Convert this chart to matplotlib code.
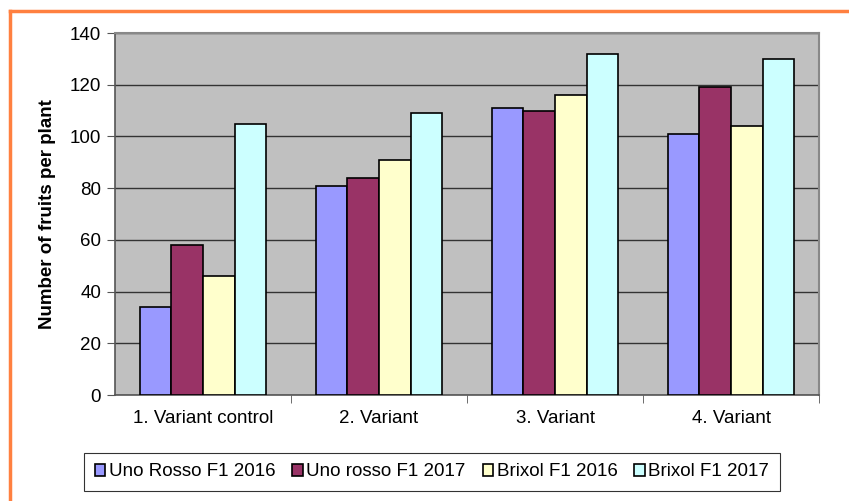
import numpy as np
import matplotlib.pyplot as plt
from matplotlib.lines import Line2D

plt.rcParams['font.family'] = ['Liberation Sans', 'DejaVu Sans']

categories = ['1. Variant control', '2. Variant', '3. Variant', '4. Variant']
series_names = ['Uno Rosso F1 2016', 'Uno rosso F1 2017', 'Brixol F1 2016', 'Brixol F1 2017']
uno_2016 = [34, 81, 111, 101]
uno_2017 = [58, 84, 110, 119]
brixol_2016 = [46, 91, 116, 104]
brixol_2017 = [105, 109, 132, 130]
colors = ['#9999FF', '#993366', '#FFFFCC', '#CCFFFF']

fig = plt.figure(figsize=(8.49, 5.01), dpi=100)
ax = fig.add_axes([115/849, 1-395/501, (819-115)/849, (395-33)/501])
ax.set_facecolor('#C0C0C0')

x = np.arange(len(categories))
w = 0.18
allvals = [uno_2016, uno_2017, brixol_2016, brixol_2017]
for i, vals in enumerate(allvals):
    ax.bar(x + (i - 1.5) * w, vals, w, color=colors[i], edgecolor='black',
           linewidth=1.2, label=series_names[i], zorder=3)

ax.set_xlim(-0.5, 3.5)
ax.set_ylim(0, 140)
ax.set_yticks(range(0, 141, 20))
ax.yaxis.grid(True, color='#333333', linewidth=1, zorder=1)
ax.set_xticks(x)
ax.set_xticklabels(categories, fontsize=13.5)
ax.tick_params(axis='x', length=0, pad=11)
ax.set_xticks([0.5, 1.5, 2.5, 3.5], minor=True)
ax.tick_params(axis='x', which='minor', length=6, color='#555555', direction='out')
ax.tick_params(axis='y', labelsize=13.5, length=6, color='#555555', direction='out', pad=4)
for s in ['top', 'right']:
    ax.spines[s].set_color('#888888')
    ax.spines[s].set_linewidth(1.5)
for s in ['left', 'bottom']:
    ax.spines[s].set_color('#555555')
    ax.spines[s].set_linewidth(1.2)
ax.set_ylabel('Number of fruits per plant', fontsize=13.5, fontweight='bold', labelpad=10)

leg = fig.legend(loc='center', bbox_to_anchor=(432/849, 1-472/501), ncol=4,
                 fontsize=13.5, frameon=True, fancybox=False, edgecolor='black',
                 handlelength=0.55, handleheight=0.55, handletextpad=0.2,
                 columnspacing=0.9, borderpad=0.55)
leg.get_frame().set_linewidth(0.8)

# orange outer frame
fig.add_artist(Line2D([10/849, 1], [1-11/501, 1-11/501], color='#FF8040', linewidth=2.5))
fig.add_artist(Line2D([10/849, 10/849], [0, 1-11/501], color='#FF8040', linewidth=2.5))

fig.savefig('out.png', dpi=100)
